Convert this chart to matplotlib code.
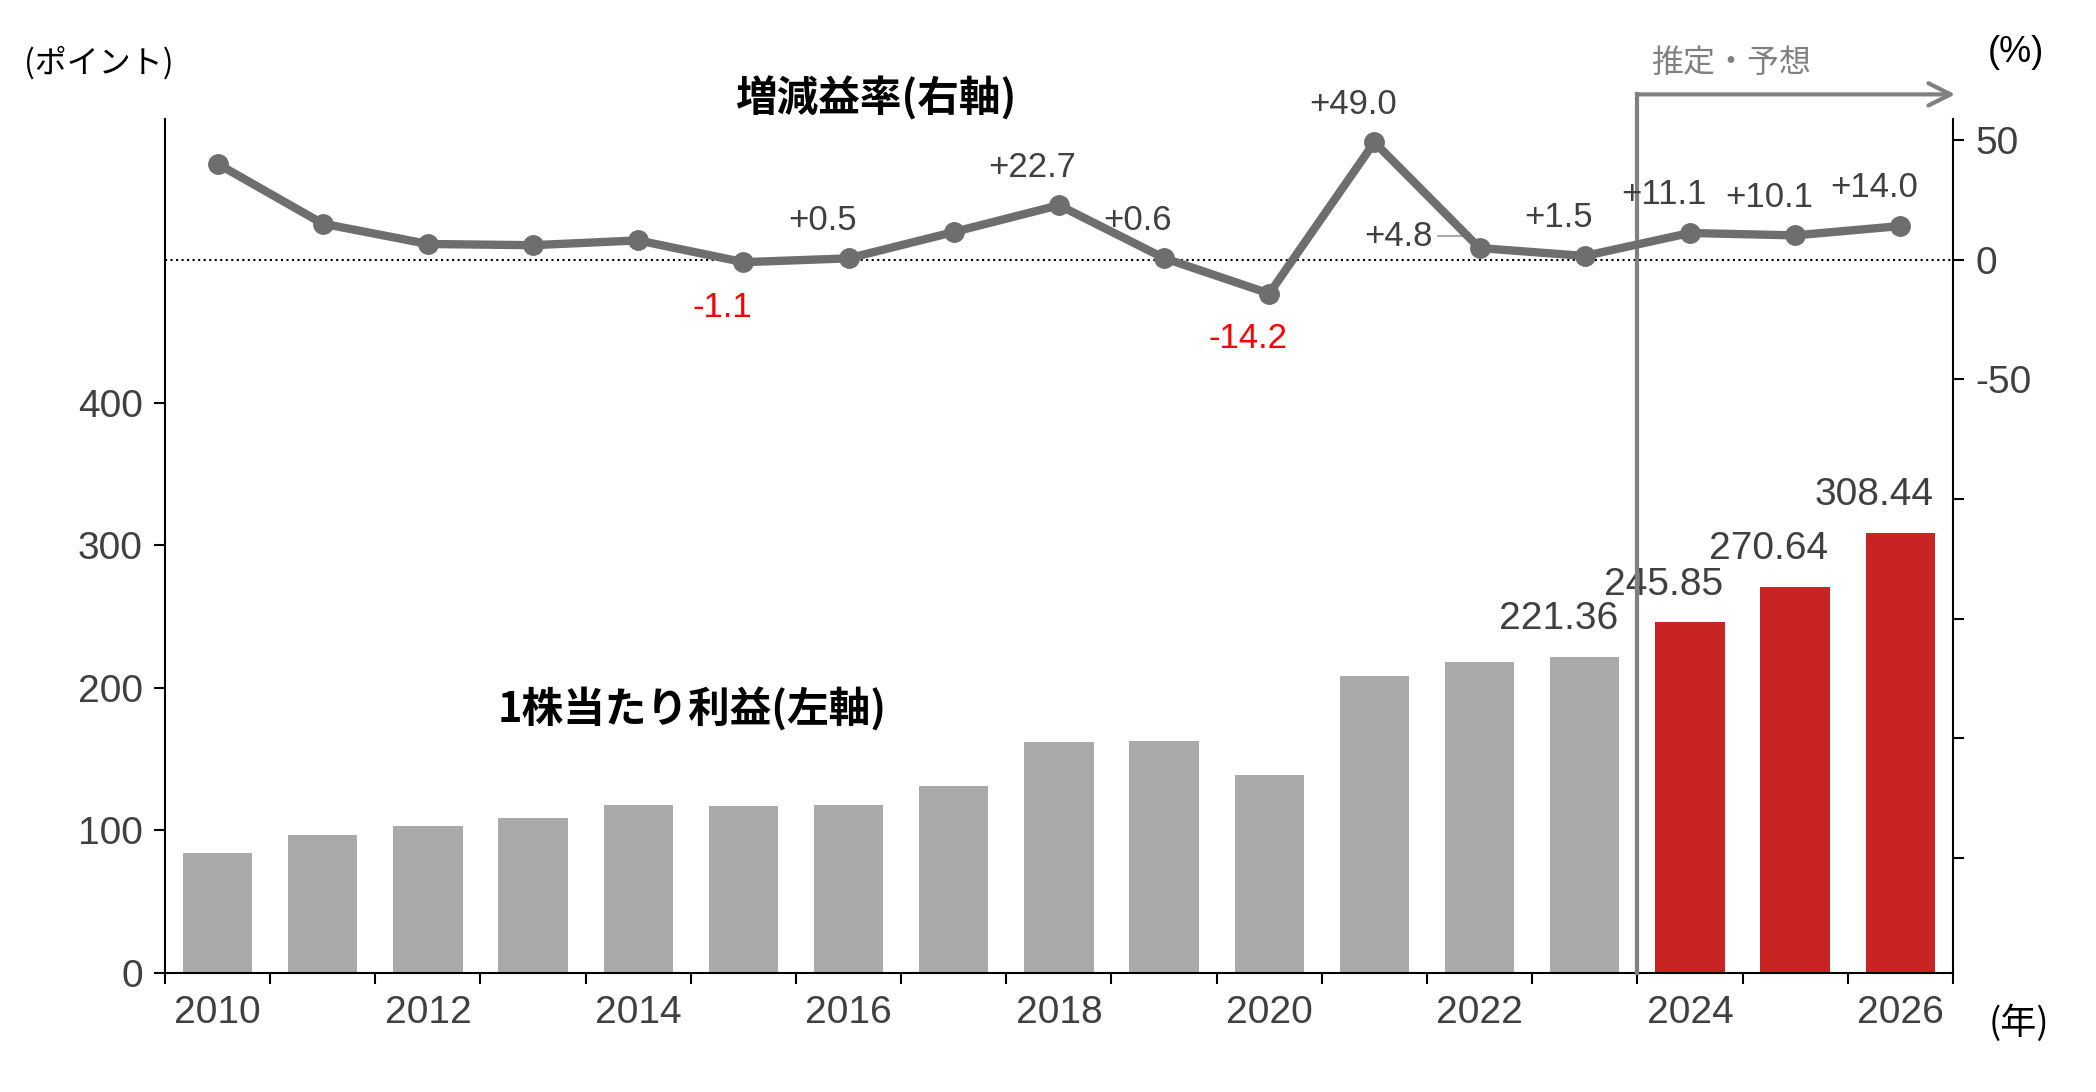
import numpy as np
import matplotlib.pyplot as plt

plt.rcParams['font.family'] = ['Liberation Sans', 'Noto Sans CJK JP', 'DejaVu Sans']

# データ
years = list(range(2010, 2027))
eps = [84, 97, 103, 109, 118, 117, 118, 131, 162, 163, 139, 208, 218, 221.36, 245.85, 270.64, 308.44]
rate = [40, 15, 6.5, 6, 8, -1.1, 0.5, 11.5, 22.7, 0.6, -14.2, 49.0, 4.8, 1.5, 11.1, 10.1, 14.0]
eps_labels = {2023: "221.36", 2024: "245.85", 2025: "270.64", 2026: "308.44"}
rate_labels = {2015: "-1.1", 2016: "+0.5", 2018: "+22.7", 2019: "+0.6", 2020: "-14.2",
               2021: "+49.0", 2022: "+4.8", 2023: "+1.5", 2024: "+11.1", 2025: "+10.1", 2026: "+14.0"}

fig = plt.figure(figsize=(20.96, 10.92), dpi=100)
ax = fig.add_axes([0.0787, 0.109, 0.853, 0.782])

colors = ['#aaaaaa' if y < 2024 else '#c82423' for y in years]
ax.bar(years, eps, width=0.66, color=colors)
ax.set_xlim(2009.5, 2026.5)
ax.set_ylim(0, 599)
ax.set_yticks([0, 100, 200, 300, 400])
ax.set_xticks(range(2010, 2027, 2))
ax.set_xticks(np.arange(2009.5, 2027, 1), minor=True)
ax.tick_params(axis='x', which='major', length=0, pad=16, labelsize=28)
ax.tick_params(axis='x', which='minor', length=8, direction='out', width=1.5)
ax.tick_params(axis='y', length=8, width=1.5, labelsize=28, pad=8)
ax.tick_params(axis='both', colors='black', labelcolor='#404040')
for s in ['top', 'right']:
    ax.spines[s].set_visible(False)
ax.spines['left'].set_linewidth(1.5)
ax.spines['bottom'].set_linewidth(1.5)

for y, t in eps_labels.items():
    v = eps[years.index(y)]
    ax.text(y - 0.25, v + 14, t, ha='center', va='bottom', fontsize=28, color='#404040')

ax2 = ax.twinx()
ax2.set_ylim(-298, 58.7)
ax2.set_yticks(range(-250, 51, 50))
ax2.set_yticklabels(['' if t < -50 else str(t) for t in range(-250, 51, 50)])
ax2.tick_params(axis='y', length=8, width=1.5, labelsize=28, labelcolor='#404040', pad=8)
for s in ['top', 'left']:
    ax2.spines[s].set_visible(False)
ax2.spines['right'].set_linewidth(1.5)
ax2.spines['bottom'].set_visible(False)
ax2.axhline(0, color='black', linestyle=':', linewidth=1.5)
ax2.plot(years, rate, color='#6e6e6e', linewidth=6, marker='o', markersize=14, zorder=5)

for y, t in rate_labels.items():
    v = rate[years.index(y)]
    if t.startswith('-'):
        ax2.text(y - 0.2, v - 12, t, ha='center', va='top', fontsize=25, color='#ff0000')
    elif y == 2022:
        ax2.text(y - 0.45, v + 5, t, ha='right', va='center', fontsize=25, color='#404040')
        ax2.plot([y - 0.4, y - 0.15], [v + 5, v + 5], color='#aaaaaa', linewidth=1.5)
    else:
        ax2.text(y - 0.25 if y != 2021 else y - 0.2, v + 9, t, ha='center', va='bottom', fontsize=25, color='#404040')

# 推定・予想
ax2.plot([2023.5, 2023.5], [-298, 69], color='#808080', linewidth=3, clip_on=False)
ax2.annotate('', xy=(2026.55, 69), xytext=(2023.48, 69),
             arrowprops=dict(arrowstyle='->', color='#808080', lw=3, mutation_scale=40),
             annotation_clip=False)
fig.text(0.826, 0.942, '推定・予想', fontsize=23, color='#808080', ha='center', va='center',
         family=['Noto Sans CJK JP'])

fig.text(0.047, 0.942, '(ポイント)', fontsize=23, color='black', ha='center', va='center',
         family=['Noto Sans CJK JP'])
fig.text(0.962, 0.952, '(%)', fontsize=26, color='black', ha='center', va='center')
fig.text(0.963, 0.063, '(年)', fontsize=26, color='black', ha='center', va='center',
         family=['Noto Sans CJK JP'])
fig.text(0.418, 0.910, '増減益率(右軸)', fontsize=30, fontweight='bold', ha='center', va='center',
         family=['Noto Sans CJK JP'])
fig.text(0.33, 0.35, '1株当たり利益(左軸)', fontsize=30, fontweight='bold', ha='center', va='center',
         family=['Noto Sans CJK JP'])

fig.savefig('out.png', dpi=100)
